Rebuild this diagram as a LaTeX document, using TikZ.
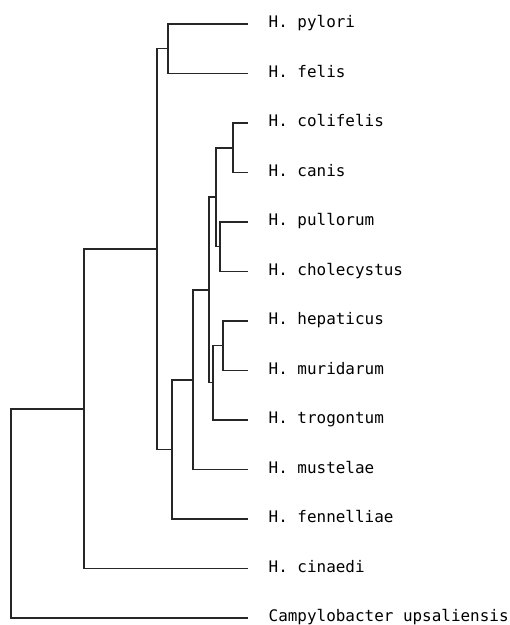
\documentclass[tikz,border=0pt]{standalone}
\usepackage{fontspec}
\setmonofont{DejaVu Sans Mono}
\usetikzlibrary{positioning}

\begin{document}
\begin{tikzpicture}[
    x=1bp, y=-1bp,
    leaf/.style={anchor=west, inner xsep=20.5bp, inner ysep=0pt, text height=0.73em, text depth=0pt,
        font=\ttfamily\fontsize{16}{18}\selectfont},
    branch/.style={draw, line width=1.2bp, black!85}
]
    \useasboundingbox (0,0) rectangle (510,625);

    % Nodes (leaves)
    \node (pyl) [leaf] at (248,24) {H. pylori};
    \node (fel) [leaf] at (248,73.5) {H. felis};
    \node (col) [leaf] at (248,123) {H. colifelis};
    \node (can) [leaf] at (248,172.5) {H. canis};
    \node (pul) [leaf] at (248,222) {H. pullorum};
    \node (cho) [leaf] at (248,271.5) {H. cholecystus};
    \node (hep) [leaf] at (248,321) {H. hepaticus};
    \node (mur) [leaf] at (248,370.5) {H. muridarum};
    \node (tro) [leaf] at (248,420) {H. trogontum};
    \node (mus) [leaf] at (248,469.5) {H. mustelae};
    \node (fen) [leaf] at (248,519) {H. fennelliae};
    \node (cin) [leaf] at (248,568.5) {H. cinaedi};
    \node (cam) [leaf] at (248,618) {Campylobacter upsaliensis};

    % Internal nodes
    \coordinate (pylfel) at (168,48.5);
    \coordinate (colcan) at (233,148);
    \coordinate (pulcho) at (220,246.5);
    \coordinate (colcho) at (216,197);
    \coordinate (hepmur) at (223,345.5);
    \coordinate (heptro) at (213,382.5);
    \coordinate (coltro) at (209,290);
    \coordinate (colmus) at (193,380);
    \coordinate (colfen) at (172,449.5);
    \coordinate (pylfen) at (157,249);
    \coordinate (pylcin) at (84,409);
    \coordinate (root) at (11,513.5);

    % Connections
    \draw [branch] (pylfel) |- (pyl.west);
    \draw [branch] (pylfel) |- (fel.west);
    \draw [branch] (colcan) |- (col.west);
    \draw [branch] (colcan) |- (can.west);
    \draw [branch] (pulcho) |- (pul.west);
    \draw [branch] (pulcho) |- (cho.west);
    \draw [branch] (colcho) |- (colcan);
    \draw [branch] (colcho) |- (pulcho);
    \draw [branch] (hepmur) |- (hep.west);
    \draw [branch] (hepmur) |- (mur.west);
    \draw [branch] (heptro) |- (hepmur);
    \draw [branch] (heptro) |- (tro.west);
    \draw [branch] (coltro) |- (colcho);
    \draw [branch] (coltro) |- (heptro);
    \draw [branch] (colmus) |- (coltro);
    \draw [branch] (colmus) |- (mus.west);
    \draw [branch] (colfen) |- (colmus);
    \draw [branch] (colfen) |- (fen.west);
    \draw [branch] (pylfen) |- (pylfel);
    \draw [branch] (pylfen) |- (colfen);
    \draw [branch] (pylcin) |- (pylfen);
    \draw [branch] (pylcin) |- (cin.west);
    \draw [branch] (root) |- (pylcin);
    \draw [branch] (root) |- (cam.west);
\end{tikzpicture}
\end{document}
